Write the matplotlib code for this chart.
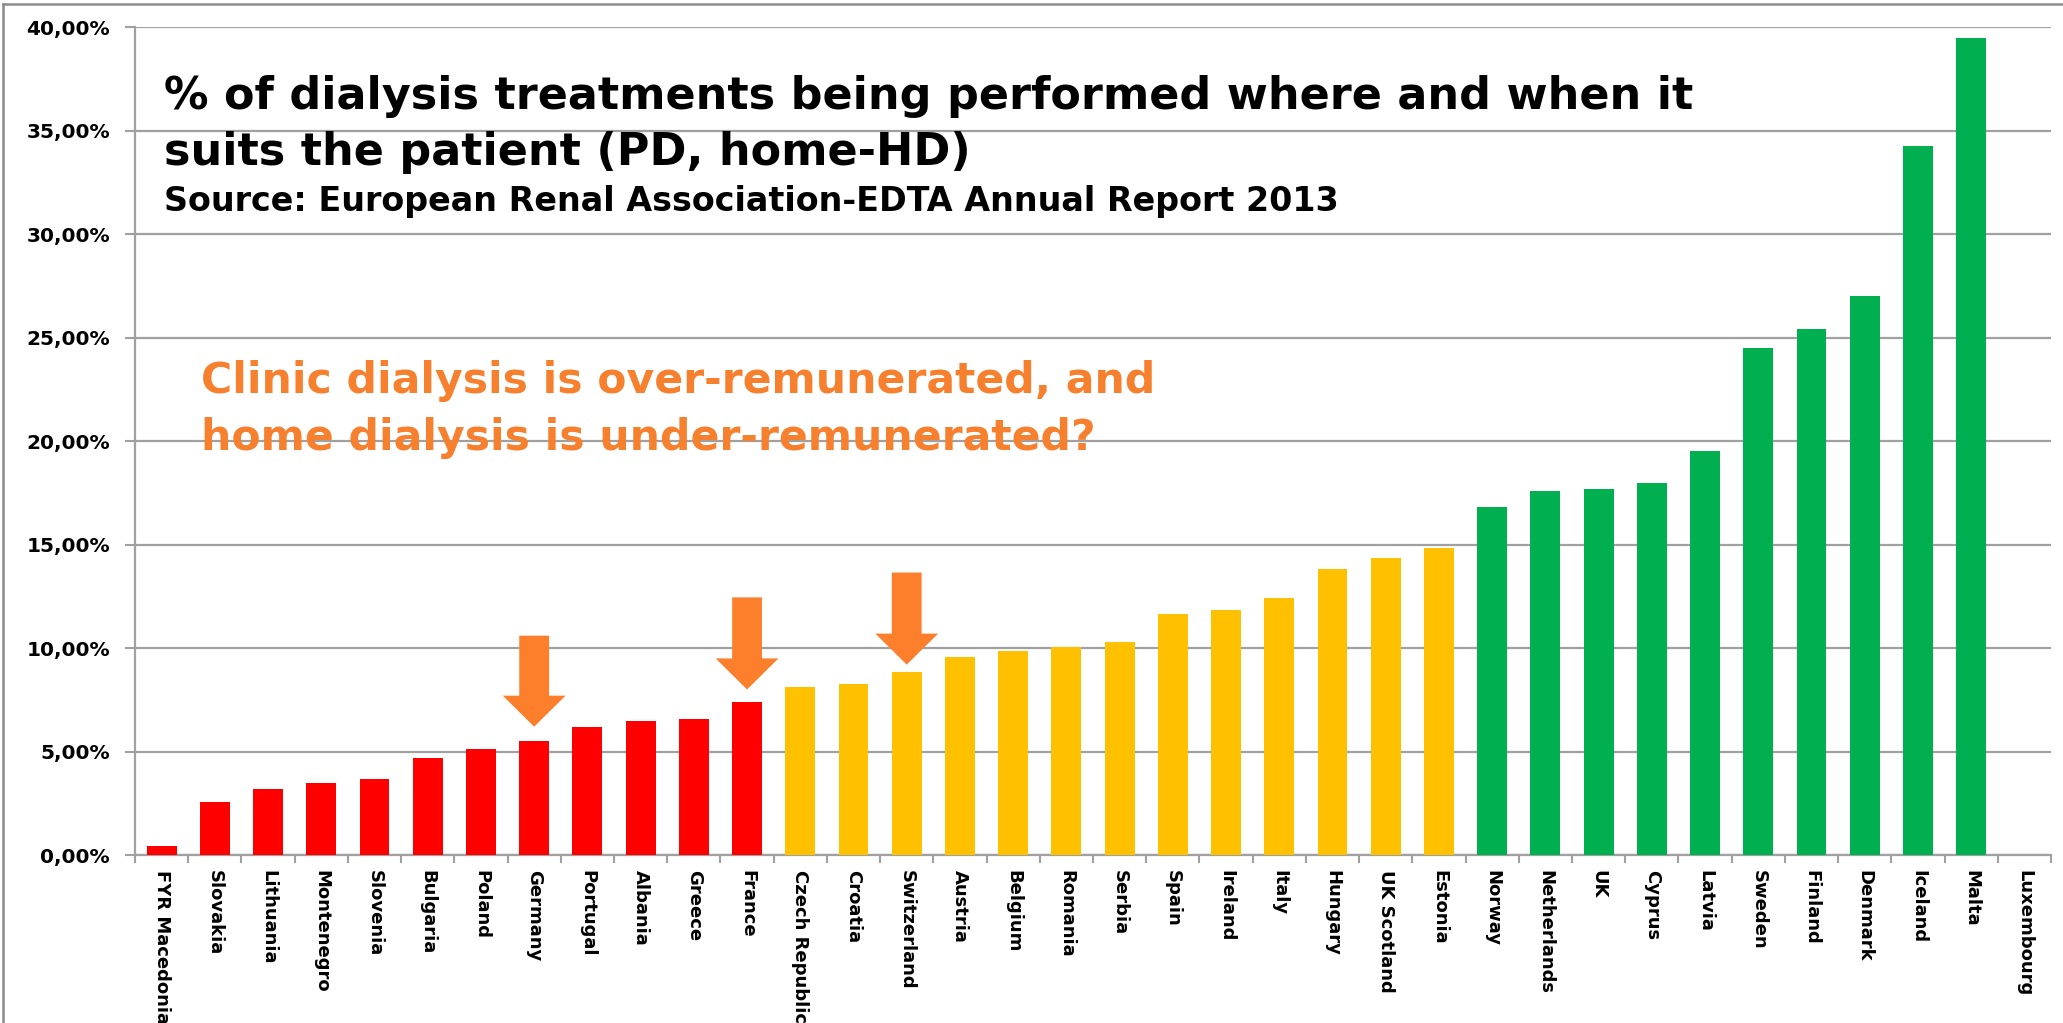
import matplotlib
matplotlib.use('Agg')
import matplotlib.pyplot as plt
from matplotlib.patches import FancyArrow
from matplotlib.lines import Line2D
from matplotlib.ticker import FuncFormatter, FixedLocator

countries = ['FYR Macedonia', 'Slovakia', 'Lithuania', 'Montenegro', 'Slovenia', 'Bulgaria',
             'Poland', 'Germany', 'Portugal', 'Albania', 'Greece', 'France',
             'Czech Republic', 'Croatia', 'Switzerland', 'Austria', 'Belgium', 'Romania',
             'Serbia', 'Spain', 'Ireland', 'Italy', 'Hungary', 'UK Scotland', 'Estonia',
             'Norway', 'Netherlands', 'UK', 'Cyprus', 'Latvia', 'Sweden', 'Finland',
             'Denmark', 'Iceland', 'Malta', 'Luxembourg']
share = [0.45, 2.56, 3.18, 3.46, 3.66, 4.70,
         5.11, 5.53, 6.20, 6.49, 6.56, 7.38,
         8.14, 8.28, 8.83, 9.59, 9.86, 10.07,
         10.28, 11.65, 11.86, 12.44, 13.83, 14.34, 14.85,
         16.80, 17.60, 17.70, 18.00, 19.50, 24.50, 25.40,
         27.00, 34.25, 39.47, 0.0]
tier = ['low'] * 12 + ['mid'] * 13 + ['high'] * 11
tier_colors = {'low': '#FF0000', 'mid': '#FFC000', 'high': '#00B050'}

# arrows pointing at Germany, France, Switzerland
arrow_countries = ['Germany', 'France', 'Switzerland']
arrow_top = [10.6, 12.45, 13.65]
arrow_tip = [6.2, 8.0, 9.2]

title_lines = ['% of dialysis treatments being performed where and when it',
               'suits the patient (PD, home-HD)']
source_text = 'Source: European Renal Association-EDTA Annual Report 2013'
remark_lines = ['Clinic dialysis is over-remunerated, and',
                'home dialysis is under-remunerated?']

W, H = 2063, 1023
fig = plt.figure(figsize=(W / 100, H / 100), dpi=100)
ax = fig.add_axes([135 / W, 1 - 855 / H, (2051 - 135) / W, (855 - 27.3) / H])

x = list(range(len(countries)))
ax.bar(x, share, width=0.56, color=[tier_colors[t] for t in tier], zorder=3)

for name, top, tip in zip(arrow_countries, arrow_top, arrow_tip):
    i = countries.index(name)
    ax.add_patch(FancyArrow(i, top, 0, tip - top, width=0.56, head_width=1.18,
                            head_length=1.5, length_includes_head=True,
                            color='#FD7F2C', lw=0, zorder=4))

ax.set_xlim(-0.5, len(countries) - 0.5)
ax.set_ylim(0, 40)
ax.set_yticks(range(0, 41, 5))
ax.yaxis.set_major_formatter(FuncFormatter(lambda v, p: f'{v:.2f}'.replace('.', ',') + '%'))
ax.grid(axis='y', color='#a0a0a0', lw=1.6, zorder=0)

ax.xaxis.set_major_locator(FixedLocator([i - 0.5 for i in range(len(countries) + 1)]))
ax.xaxis.set_minor_locator(FixedLocator(x))
ax.set_xticklabels([], minor=False)
ax.set_xticklabels(countries, minor=True, rotation=-90, fontsize=13, fontweight='bold',
                   va='top', ha='center')
ax.tick_params(axis='x', which='major', length=6, width=1.5, color='#a0a0a0')
ax.tick_params(axis='x', which='minor', length=0, pad=11)
ax.tick_params(axis='y', length=7, width=1.5, color='#a0a0a0', pad=11)
for lab in ax.get_yticklabels():
    lab.set_fontsize(14.5)
    lab.set_fontweight('bold')

for s in ['top', 'right']:
    ax.spines[s].set_visible(False)
for s in ['left', 'bottom']:
    ax.spines[s].set_color('#a0a0a0')
    ax.spines[s].set_linewidth(1.6)

fig.text(164 / W, 1 - 97 / H, title_lines[0], fontsize=32, fontweight='bold', va='center')
fig.text(164 / W, 1 - 152 / H, title_lines[1], fontsize=32, fontweight='bold', va='center')
fig.text(164 / W, 1 - 201 / H, source_text, fontsize=24, fontweight='bold', va='center')
fig.text(201 / W, 1 - 381 / H, remark_lines[0], fontsize=30.6, fontweight='bold',
         color='#F7802F', va='center')
fig.text(201 / W, 1 - 438 / H, remark_lines[1], fontsize=30.6, fontweight='bold',
         color='#F7802F', va='center')

# outer frame of the slide
fig.add_artist(Line2D([3 / W, 3 / W], [0, 1 - 4 / H], transform=fig.transFigure,
                      color='#8c8c8c', lw=1.8))
fig.add_artist(Line2D([3 / W, 1], [1 - 4 / H, 1 - 4 / H], transform=fig.transFigure,
                      color='#8c8c8c', lw=1.8))

fig.savefig('out.png', dpi=100)
